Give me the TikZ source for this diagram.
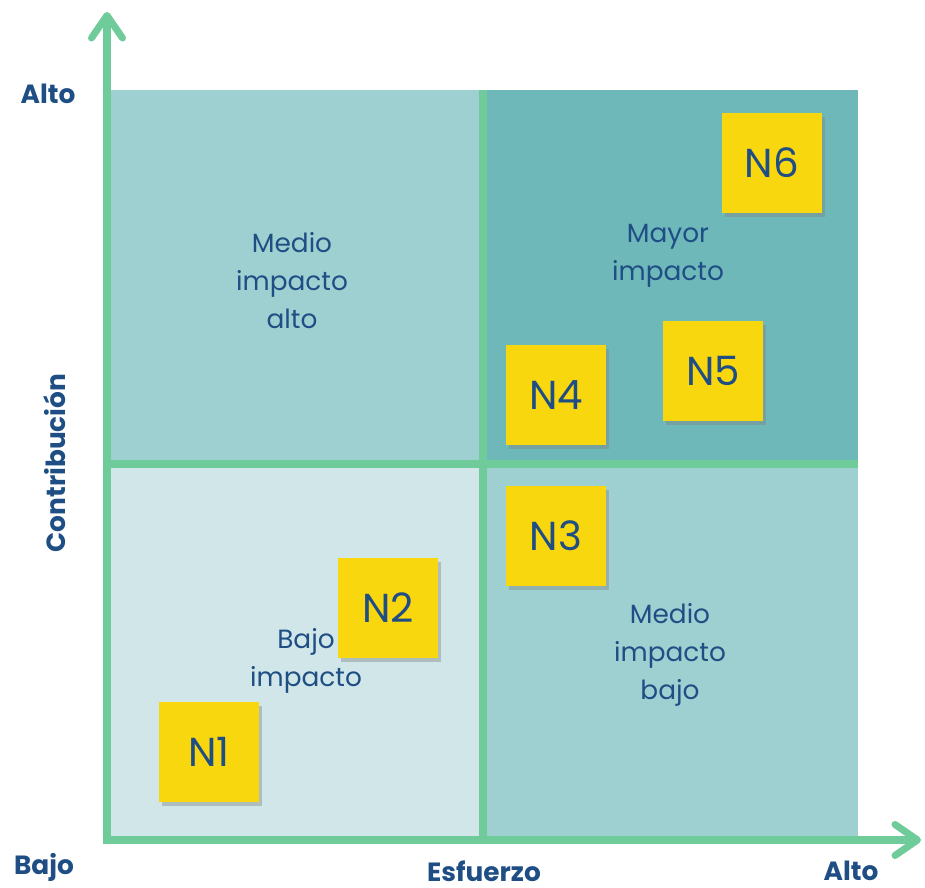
\documentclass[tikz,border=0pt]{standalone}
\usepackage{fontspec}
\setmainfont{Poppins}
\usetikzlibrary{arrows.meta,shadows,positioning}
\definecolor{axisgreen}{RGB}{111,203,154}
\definecolor{quadlight}{RGB}{208,230,232}
\definecolor{quadmid}{RGB}{159,208,209}
\definecolor{quaddark}{RGB}{110,184,186}
\definecolor{noteyellow}{RGB}{249,215,14}
\definecolor{textblue}{RGB}{31,78,133}

\begin{document}
\begin{tikzpicture}[
    axis/.style={draw=axisgreen, line width=4pt,
                 {Straight Barb[length=0.45cm,width=0.62cm,round]}-{Straight Barb[length=0.45cm,width=0.62cm,round]}},
    gridline/.style={draw=axisgreen, line width=4pt},
    note/.style={rectangle, fill=noteyellow, minimum size=2cm, inner sep=0pt, text=textblue,
                 font=\fontsize{23}{26}\selectfont,
                 drop shadow={shadow xshift=0.06cm, shadow yshift=-0.09cm, opacity=0.4}},
    quadlabel/.style={align=center, text=textblue, font=\fontsize{15}{21.6}\selectfont},
    axislabel/.style={text=textblue, inner sep=1pt, font=\fontsize{15}{18}\selectfont\bfseries}
]
\useasboundingbox (0,0) rectangle (18.5,17.76);

% Quadrants
\fill[quadmid] (2.14,8.48) rectangle (9.66,15.96);
\fill[quaddark] (9.66,8.48) rectangle (17.16,15.96);
\fill[quadlight] (2.14,0.96) rectangle (9.66,8.48);
\fill[quadmid] (9.66,0.96) rectangle (17.16,8.48);

% Grid
\coordinate (midtop) at (9.66,15.96);
\coordinate (midbottom) at (9.66,0.96);
\coordinate (midleft) at (2.14,8.48);
\coordinate (midright) at (17.16,8.48);
\draw[gridline] (midbottom) -- (midtop);
\draw[gridline] (midleft) -- (midright);

% Axes
\coordinate (origin) at (2.14,0.96);
\coordinate (ytip) at (2.14,17.52);
\coordinate (xtip) at (18.42,0.96);
\draw[axis] (ytip) -- (origin) -- (xtip);

% Labels
\node[axislabel] (ytop) at (0.96,15.88) {Alto};
\node[axislabel] (ybottom) at (0.88,0.42) {Bajo};
\node[axislabel] (xname) at (9.68,0.34) {Esfuerzo};
\node[axislabel] (xtop) at (17.02,0.34) {Alto};
\node[axislabel, rotate=90] (yname) at (1.1,8.5) {Contribución};

\node[quadlabel] (medioalto) at (5.84,12.14) {Medio\\impacto\\alto};
\node[quadlabel] (mayor) at (13.36,12.64) {Mayor\\impacto};
\node[quadlabel] (bajo) at (6.12,4.54) {Bajo\\impacto};
\node[quadlabel] (mediobajo) at (13.4,4.66) {Medio\\impacto\\bajo};

% Notes
\node[note] (n1) at (4.18,2.72) {N1};
\node[note] (n2) at (7.76,5.6) {N2};
\node[note] (n3) at (11.12,7.04) {N3};
\node[note] (n4) at (11.12,9.86) {N4};
\node[note] (n5) at (14.26,10.34) {N5};
\node[note] (n6) at (15.44,14.5) {N6};

\end{tikzpicture}
\end{document}
